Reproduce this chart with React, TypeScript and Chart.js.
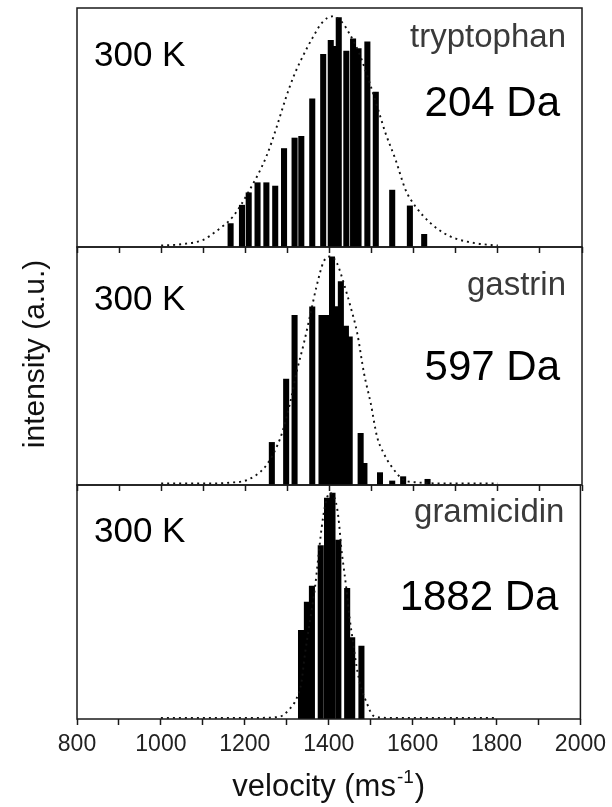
import React, { useEffect, useRef } from 'react';
import { Chart, registerables } from 'chart.js';

Chart.register(...registerables);

const FONT = '"Liberation Sans", Arial, Helvetica, sans-serif';

// ---------- axis / text ----------
const xMin = 800;
const xMax = 2000;
const xMinorStep = 100;
const xMajorStep = 200;
const xTitleMain = 'velocity (ms';
const xTitleSup = '-1';
const xTitleEnd = ')';
const yTitle = 'intensity (a.u.)';
const temperature = '300 K';
const moleculeNames = ['tryptophan', 'gastrin', 'gramicidin'];
const massLabels = ['204 Da', '597 Da', '1882 Da'];

// ---------- tryptophan (204 Da) ----------
const trpBarVel = [1165, 1192, 1208, 1229, 1250, 1271, 1292, 1317, 1333, 1359, 1385, 1403, 1413, 1422, 1440, 1456, 1469, 1490, 1510, 1549, 1591, 1625];
const trpBarInt = [0.098, 0.175, 0.227, 0.269, 0.269, 0.255, 0.412, 0.456, 0.463, 0.62, 0.806, 0.865, 0.84, 0.96, 0.82, 0.871, 0.83, 0.858, 0.648, 0.238, 0.172, 0.053];
const trpFitVel = [1000, 1050, 1100, 1130, 1170, 1210, 1250, 1275, 1295, 1315, 1333, 1360, 1383, 1406, 1430, 1446, 1470, 1498, 1518, 1533, 1557, 1581, 1605, 1640, 1670, 1700, 1750, 1800];
const trpFitInt = [0.006, 0.012, 0.03, 0.065, 0.126, 0.238, 0.379, 0.505, 0.617, 0.715, 0.785, 0.876, 0.94, 0.965, 0.94, 0.897, 0.813, 0.673, 0.561, 0.477, 0.365, 0.238, 0.168, 0.1, 0.06, 0.035, 0.015, 0.006];

// ---------- gastrin (597 Da) ----------
const gasBarVel = [1263, 1297, 1317, 1359, 1381, 1394, 1406, 1415, 1427, 1439, 1448, 1474, 1483, 1520, 1549, 1575, 1633];
const gasBarInt = [0.179, 0.445, 0.713, 0.749, 0.713, 0.713, 0.959, 0.75, 0.855, 0.668, 0.623, 0.217, 0.091, 0.052, 0.017, 0.035, 0.024];
const gasFitVel = [1000, 1100, 1164, 1204, 1244, 1267, 1287, 1307, 1323, 1339, 1355, 1369, 1386, 1402, 1418, 1434, 1450, 1466, 1482, 1498, 1513, 1529, 1545, 1577, 1608, 1700, 1800];
const gasFitInt = [0.006, 0.006, 0.01, 0.021, 0.07, 0.133, 0.217, 0.35, 0.483, 0.595, 0.721, 0.833, 0.938, 0.96, 0.931, 0.847, 0.749, 0.637, 0.469, 0.343, 0.203, 0.133, 0.084, 0.021, 0.011, 0.006, 0.006];

// ---------- gramicidin (1882 Da) ----------
const graBarVel = [1334, 1348, 1360, 1381, 1396, 1409, 1423, 1444, 1456, 1478];
const graBarInt = [0.379, 0.5, 0.568, 0.741, 0.944, 0.966, 0.765, 0.558, 0.348, 0.312];
const graFitVel = [1000, 1100, 1200, 1236, 1283, 1307, 1323, 1335, 1343, 1355, 1367, 1375, 1383, 1391, 1402, 1414, 1420, 1425, 1430, 1436, 1442, 1450, 1458, 1466, 1478, 1490, 1506, 1538, 1700, 1800];
const graFitInt = [0.005, 0.005, 0.005, 0.005, 0.01, 0.043, 0.086, 0.157, 0.272, 0.415, 0.558, 0.687, 0.815, 0.908, 0.966, 0.944, 0.901, 0.83, 0.73, 0.644, 0.558, 0.429, 0.329, 0.229, 0.129, 0.072, 0.014, 0.005, 0.005, 0.005];

const panelsData = [
  { barVel: trpBarVel, barInt: trpBarInt, fitVel: trpFitVel, fitInt: trpFitInt },
  { barVel: gasBarVel, barInt: gasBarInt, fitVel: gasFitVel, fitInt: gasFitInt },
  { barVel: graBarVel, barInt: graBarInt, fitVel: graFitVel, fitInt: graFitInt },
];

// ---------- layout (pixels) ----------
const W = 612;
const H = 807;
const PLOT_LEFT = 77;
const PLOT_RIGHT = 582;
const PANEL_TOPS = [8, 247, 485];
const PANEL_BOTTOMS = [247, 485, 719];
const X_AXIS_H = 50;
const TEMP_BASE = [58, 63, 57];
const NAME_BASE = [39, 48, 37];
const MASS_BASE = [108, 133, 125];

const decoPlugin = {
  id: 'deco',
  afterDraw(chart: any, _args: any, opts: any) {
    const { ctx, chartArea: a } = chart;
    ctx.save();
    ctx.strokeStyle = '#1a1a1a';
    ctx.lineWidth = 1.5;
    ctx.strokeRect(a.left, a.top, a.right - a.left, a.bottom - a.top);

    ctx.textBaseline = 'alphabetic';
    ctx.fillStyle = '#000';
    ctx.textAlign = 'left';
    ctx.font = `35px ${FONT}`;
    ctx.fillText(temperature, a.left + 17, a.top + opts.tempBase);

    ctx.textAlign = 'right';
    ctx.fillStyle = '#3a3a3a';
    ctx.font = `33px ${FONT}`;
    ctx.fillText(opts.name, a.right - 16, a.top + opts.nameBase);

    ctx.fillStyle = '#000';
    ctx.font = `42px ${FONT}`;
    ctx.fillText(opts.mass, a.right - 22, a.top + opts.massBase);

    if (opts.yTitle) {
      ctx.save();
      ctx.translate(a.left - 41, (a.top + a.bottom) / 2 - 12);
      ctx.rotate(-Math.PI / 2);
      ctx.textAlign = 'center';
      ctx.textBaseline = 'middle';
      ctx.fillStyle = '#111';
      ctx.font = `30px ${FONT}`;
      ctx.fillText(yTitle, 0, 0);
      ctx.restore();
    }

    if (opts.xTitle) {
      const mainFont = `31px ${FONT}`;
      const supFont = `19px ${FONT}`;
      ctx.font = mainFont;
      const w1 = ctx.measureText(xTitleMain).width;
      const w3 = ctx.measureText(xTitleEnd).width;
      ctx.font = supFont;
      const w2 = ctx.measureText(xTitleSup).width;
      const total = w1 + w2 + w3 + 2;
      let x = (a.left + a.right) / 2 - total / 2;
      const base = a.bottom + 77;
      ctx.textAlign = 'left';
      ctx.textBaseline = 'alphabetic';
      ctx.fillStyle = '#111';
      ctx.font = mainFont;
      ctx.fillText(xTitleMain, x, base);
      x += w1 + 1;
      ctx.font = supFont;
      ctx.fillText(xTitleSup, x, base - 13);
      x += w2 + 1;
      ctx.font = mainFont;
      ctx.fillText(xTitleEnd, x, base);
    }
    ctx.restore();
  },
};

function makeChart(canvas: HTMLCanvasElement, i: number) {
  const d = panelsData[i];
  const isBottom = i === panelsData.length - 1;
  const bars = d.barVel.map((v, k) => ({ x: v, y: d.barInt[k] }));
  const fit = d.fitVel.map((v, k) => ({ x: v, y: d.fitInt[k] }));
  return new Chart(canvas, {
    type: 'bar',
    data: {
      datasets: [
        {
          type: 'line',
          data: fit,
          borderColor: '#111',
          borderWidth: 1.9,
          borderDash: [2, 4],
          pointRadius: 0,
          fill: false,
          cubicInterpolationMode: 'monotone',
          order: 0,
        } as any,
        {
          type: 'bar',
          data: bars,
          backgroundColor: '#000',
          borderWidth: 0,
          barThickness: 5.4,
          order: 1,
        } as any,
      ],
    },
    options: {
      animation: false,
      responsive: false,
      devicePixelRatio: 1,
      layout: {
        padding: {
          left: PLOT_LEFT,
          right: W - PLOT_RIGHT,
          top: PANEL_TOPS[i],
          bottom: H - PANEL_BOTTOMS[i] - X_AXIS_H,
        },
      },
      plugins: {
        legend: { display: false },
        tooltip: { enabled: false },
        deco: {
          name: moleculeNames[i],
          mass: massLabels[i],
          tempBase: TEMP_BASE[i],
          nameBase: NAME_BASE[i],
          massBase: MASS_BASE[i],
          yTitle: i === 1,
          xTitle: isBottom,
        },
      } as any,
      scales: {
        x: {
          type: 'linear',
          min: xMin,
          max: xMax,
          offset: false,
          afterFit: (s: any) => {
            s.height = X_AXIS_H;
          },
          border: { display: false },
          grid: {
            display: true,
            offset: false,
            drawOnChartArea: false,
            drawTicks: true,
            tickLength: 6,
            tickColor: '#1a1a1a',
            tickWidth: 1.5,
          },
          ticks: {
            display: isBottom,
            stepSize: xMinorStep,
            autoSkip: false,
            maxRotation: 0,
            minRotation: 0,
            padding: 6,
            color: '#222',
            font: { family: FONT, size: 23 },
            callback: (v: any) => (Number(v) % xMajorStep === 0 ? String(v) : ''),
          },
        },
        y: {
          display: false,
          min: 0,
          max: 1,
        },
      },
    } as any,
    plugins: [decoPlugin],
  });
}

export default function App() {
  const r0 = useRef<HTMLCanvasElement>(null);
  const r1 = useRef<HTMLCanvasElement>(null);
  const r2 = useRef<HTMLCanvasElement>(null);

  useEffect(() => {
    const refs = [r0, r1, r2];
    const charts = refs.map((r, i) => makeChart(r.current as HTMLCanvasElement, i));
    return () => charts.forEach((c) => c.destroy());
  }, []);

  const cs: React.CSSProperties = {
    position: 'absolute',
    left: 0,
    top: 0,
    width: W,
    height: H,
  };

  return (
    <div style={{ position: 'absolute', left: 0, top: 0, width: W, height: H, background: '#fff' }}>
      <canvas ref={r0} width={W} height={H} style={cs} />
      <canvas ref={r1} width={W} height={H} style={cs} />
      <canvas ref={r2} width={W} height={H} style={cs} />
    </div>
  );
}
